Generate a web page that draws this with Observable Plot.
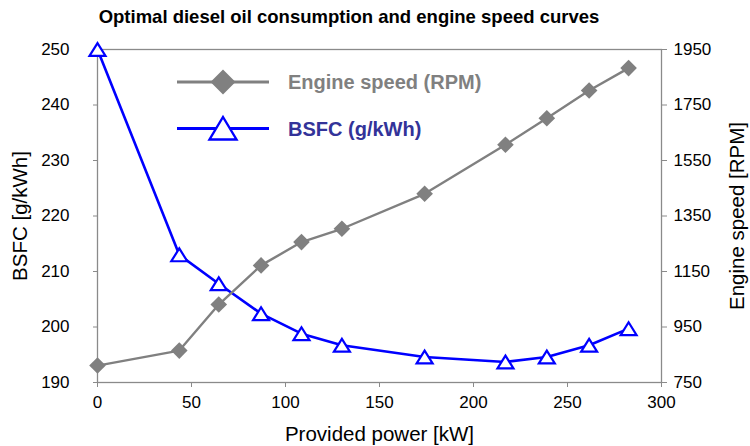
<!DOCTYPE html>
<html>
<head>
<meta charset="utf-8">
<script src="https://cdn.jsdelivr.net/npm/d3@7"></script>
<script src="https://cdn.jsdelivr.net/npm/@observablehq/plot@0.6"></script>
<style>
  html, body { margin: 0; padding: 0; background: #fff; }
  body { width: 750px; height: 446px; position: relative; overflow: hidden; font-family: "Liberation Sans", Arial, sans-serif; }
  #title { width: 698px; height: 34px; line-height: 34px; text-align: center; font-weight: bold; font-size: 18.5px; color: #000; }
  #legend { position: absolute; left: 0; top: 0; pointer-events: none; }
  g[aria-label$="axis label"] text { font-size: 20.5px; }
</style>
</head>
<body>
<div id="title">Optimal diesel oil consumption and engine speed curves</div>
<div id="chart"></div>
<svg id="legend" width="750" height="446"></svg>
<script>
// ---- data ----
const power = [0, 43.5, 64.5, 87, 108.5, 130, 174, 217, 239, 261.5, 282.5];
const bsfc = [250, 213, 207.8, 202.4, 198.8, 196.7, 194.6, 193.7, 194.6, 196.7, 199.7];
const rpm = [811, 865, 1031, 1172, 1256, 1304, 1430, 1607, 1702, 1802, 1883];
const xTicks = [0, 50, 100, 150, 200, 250, 300];
const bsfcTicks = [190, 200, 210, 220, 230, 240, 250];
const rpmTicks = [750, 950, 1150, 1350, 1550, 1750, 1950];
const seriesNames = ["Engine speed (RPM)", "BSFC (g/kWh)"];

// secondary axis mapping (RPM 750..1950 onto BSFC 190..250)
const rpmMin = 750, rpmMax = 1950, bMin = 190, bMax = 250;
const toLeft = r => bMin + (r - rpmMin) / (rpmMax - rpmMin) * (bMax - bMin);
const fromLeft = v => String(Math.round(rpmMin + (v - bMin) / (bMax - bMin) * (rpmMax - rpmMin)));

const bsfcData = power.map((p, i) => ({p, v: bsfc[i]}));
const rpmData = power.map((p, i) => ({p, v: toLeft(rpm[i])}));

const gray = "#808080", axisGray = "#8a8a8a", blue = "#0000ff";

const diamondSym = {draw(ctx, size) { const r = Math.sqrt(size / Math.PI); ctx.moveTo(0, -r); ctx.lineTo(r, 0); ctx.lineTo(0, r); ctx.lineTo(-r, 0); ctx.closePath(); }};
const triSym = {draw(ctx, size) { const r = Math.sqrt(size / Math.PI); ctx.moveTo(0, -0.8 * r); ctx.lineTo(r, 0.8 * r); ctx.lineTo(-r, 0.8 * r); ctx.closePath(); }};

const chart = Plot.plot({
  width: 750, height: 412,
  marginTop: 15, marginBottom: 64, marginLeft: 97, marginRight: 89,
  style: {fontFamily: "'Liberation Sans', Arial, sans-serif", fontSize: "17px", color: "#000", background: "#fff"},
  x: {domain: [0, 300]},
  y: {domain: [190, 250]},
  marks: [
    Plot.frame({stroke: axisGray, strokeWidth: 1.3}),
    Plot.axisX({ticks: xTicks, tickSize: 5, tickPadding: 8, stroke: axisGray, label: "Provided power [kW]", labelAnchor: "center", labelArrow: "none", labelOffset: 58}),
    Plot.axisY({anchor: "left", ticks: bsfcTicks, tickSize: 4, tickPadding: 24, stroke: axisGray, label: "BSFC [g/kWh]", labelAnchor: "center", labelArrow: "none", labelOffset: 85}),
    Plot.axisY({anchor: "right", ticks: rpmTicks.map(toLeft), tickFormat: fromLeft, tickSize: 5, tickPadding: 7, stroke: axisGray, label: "Engine speed [RPM]", labelAnchor: "center", labelArrow: "none", labelOffset: 82}),
    Plot.line(bsfcData, {x: "p", y: "v", stroke: blue, strokeWidth: 2.6}),
    Plot.line(rpmData, {x: "p", y: "v", stroke: gray, strokeWidth: 2.4}),
    Plot.dot(rpmData, {x: "p", y: "v", symbol: diamondSym, r: 8.3, fill: gray, stroke: "none"}),
    Plot.dot(bsfcData, {x: "p", y: "v", symbol: triSym, r: 8, fill: "#fff", stroke: blue, strokeWidth: 2.2})
  ]
});
document.getElementById("chart").append(chart);

// ---- legend (inside the plot area) ----
const lg = d3.select("#legend");
const items = [
  {name: seriesNames[0], y: 82, color: gray, text: "#808080", sym: "diamond"},
  {name: seriesNames[1], y: 128.5, color: blue, text: "#333399", sym: "tri"}
];
items.forEach(it => {
  lg.append("line").attr("x1", 177).attr("x2", 269).attr("y1", it.y).attr("y2", it.y)
    .attr("stroke", it.color).attr("stroke-width", 2.8);
  if (it.sym === "diamond") {
    lg.append("path").attr("d", `M223,${it.y-12.5}L235.5,${it.y}L223,${it.y+12.5}L210.5,${it.y}Z`).attr("fill", gray);
  } else {
    lg.append("path").attr("d", `M223,${it.y-11.5}L236.5,${it.y+11}L209.5,${it.y+11}Z`).attr("fill", "#fff").attr("stroke", blue).attr("stroke-width", 2.4);
  }
  lg.append("text").attr("x", 288).attr("y", it.y).attr("dy", "0.36em")
    .attr("font-family", "'Liberation Sans', Arial, sans-serif").attr("font-weight", "bold").attr("font-size", 20)
    .attr("fill", it.text).text(it.name);
});
</script>
</body>
</html>
